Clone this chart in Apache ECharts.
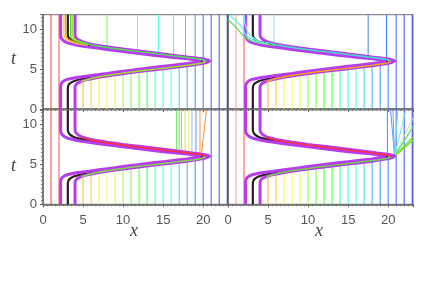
<!DOCTYPE html>
<html><head><meta charset="utf-8">
<script src="https://cdn.jsdelivr.net/npm/echarts@6/dist/echarts.min.js"></script>
<style>html,body{margin:0;padding:0;background:#fff}#c{width:431px;height:293px}</style>
</head><body><div id="c"></div>
<script>
// ---------- data ----------
const T_MAX = 11.8, X_MAX = 23.1;
const xTickLabels = [0, 5, 10, 15, 20];
const tTickLabels = [0, 5, 10];

// thick trajectories [x, t]
const outerPath = [[4,0],[4,2.7],[4.15,3.1],[4.6,3.4],[5.4,3.65],[6.5,3.88],[8,4.13],[10,4.42],[12,4.68],[14,4.92],[16,5.15],[18,5.4],[19.5,5.62],[20.4,5.82],[20.8,6.0],[20.4,6.18],[19.5,6.32],[18,6.5],[16,6.75],[14,7.0],[12,7.25],[10,7.5],[8,7.78],[6.5,8.02],[5.4,8.28],[4.6,8.55],[4.15,8.9],[4,9.3],[4,11.8]];
const innerPath = [[2.2,0],[2.2,2.85],[2.4,3.35],[3,3.7],[4,3.92],[5.5,4.12],[8,4.45],[10,4.72],[12,4.98],[14,5.22],[16,5.45],[18,5.68],[19.2,5.85],[19.6,6.0],[19.2,6.12],[18,6.28],[16,6.48],[14,6.7],[12,6.95],[10,7.2],[8,7.45],[5.5,7.8],[4,8.05],[3,8.3],[2.4,8.7],[2.2,9.2],[2.2,11.8]];
const midPath = [[3.1,0],[3.1,2.65],[3.3,3.15],[3.9,3.5],[5,3.78],[6.5,4.0],[8,4.27],[10,4.56],[12,4.82],[14,5.06],[16,5.3],[18,5.54],[19.3,5.75],[19.9,5.95],[19.5,6.1],[18,6.38],[16,6.6],[14,6.85],[12,7.1],[10,7.35],[8,7.6],[6.5,7.85],[5,8.1],[3.9,8.4],[3.3,8.8],[3.1,9.3],[3.1,11.8]];
const lowerCorePath = [[4.8,3.45],[5.6,3.7],[6.5,3.94],[8,4.2],[10,4.49],[12,4.75],[14,4.99],[16,5.22],[18,5.47],[19.5,5.68],[20.3,5.9]];
const upperCorePath = [[20.3,6.05],[19.5,6.25],[18,6.44],[16,6.68],[14,6.93],[12,7.18],[10,7.42],[8,7.69],[6.5,7.94],[5.6,8.15],[4.8,8.4]];

// thin vertical lines below the wave: x and the t where each meets it
const belowX   = [5,6,7,8,9,10,11,12,13,14,15,16,17,18,19,20];
const belowTop = [3.55,3.8,3.98,4.15,4.28,4.42,4.55,4.67,4.78,4.9,5.02,5.13,5.25,5.37,5.5,5.65];
// full-height thin lines
const fullX = [1, 2, 21, 22, 23];

// top-left: lines leaving the wave upward
const aboveX_TL    = [8, 11.8, 14.4, 16.3, 17.8, 19, 20];
const aboveFrom_TL = [7.78, 7.28, 6.95, 6.71, 6.53, 6.38, 6.25];
const bundleTL = [
  [[5.6,8.0],[4,8.25],[3,8.6],[2.65,9.1],[2.6,9.8],[2.6,11.8]],
  [[5.6,8.05],[4.2,8.3],[3.2,8.7],[2.85,9.2],[2.8,11.8]],
  [[5.6,8.1],[4.3,8.4],[3.6,8.8],[3.45,9.3],[3.45,11.8]],
  [[5.6,8.15],[4.4,8.5],[3.75,9.0],[3.65,9.6],[3.65,11.8]]
];
// top-right
const aboveX_TR    = [5.75, 17.5, 19.8];
const aboveFrom_TR = [7.95, 6.6, 6.3];
const cornerTR = [
  [[0,11.2],[1.0,10.2],[2.0,9.1],[3.0,8.5],[4.5,8.15],[6,7.95]],
  [[0.2,11.8],[1.0,11.0],[1.7,10.3],[2.3,9.2],[3.2,8.6],[4.5,8.2]],
  [[2.0,11.8],[2.1,10.8],[2.4,9.8],[3.0,9.0],[4.0,8.4],[5,8.15]]
];
// bottom-left
const aboveX_BL    = [16.7, 17.0, 17.3, 17.75, 18.2, 18.6, 19.1, 19.6];
const aboveFrom_BL = [6.66, 6.62, 6.59, 6.53, 6.48, 6.43, 6.37, 6.31];
const slantBL = [[19.8,6.3],[20.4,11.8]];
// bottom-right: fan from the tip
const fanStart = [20.8, 6.05];
const fanEnds = [[20.3,11.8],[20.6,11.8],[21.2,11.8],[22.2,11.8],[23.1,10.8],[23.1,9.7],[23.1,8.4],[23.1,8.0]];
const vertBR = [[19.9,6.3],[19.9,11.8]];

// ---------- styles ----------
const lineHue = [0,8,18,28,35,42,55,62,75,95,105,115,125,145,165,180,195,205,215,222,228,235,240];
const hc = (h, l) => `hsl(${h},100%,${l || 60}%)`;
const PURPLE = '#b63cf2', BLACK = '#2b1c1c';
const aboveCol_TL = [hc(110,65), hc(150,70), hc(175,62), hc(190,68), hc(205,68), hc(215,65), hc(225,62)];
const aboveCol_TR = [hc(200,78), hc(218,62), hc(225,62)];
const aboveCol_BL = ['#50e050','#70e040','#a0e040','#d8e040','#f0e070','#90c0ff','#6090ff','#ff9040'];
const fanCol = ['#6090ff','#70a0ff','#60e0e0','#70f0d0','#a0f0a0','#70e070','#60e040','#80e020'];
const bundleTLCol = ['#f0e020','#ff9a20','#40d040','#a0e020'];
const cornerTRCol = ['#60e060','#60f0f0','#80f0f0'];
const coreCol = [['#9be21e','#4fe04f'],['#f0a020','#40e0c0'],['#80d840','#ff3030'],['#70d040','#ff3040']];
const fullCol = [['#ff4040','#ff5050'],['#ff9a9a','#ff5050']];

// ---------- build ----------
const series = [];
function line(gi, data, color, width, z, smooth) {
  series.push({type:'line', xAxisIndex:gi, yAxisIndex:gi, data:data, showSymbol:false, symbol:'none',
    smooth: smooth || false, lineStyle:{color:color, width:width}, z:z, silent:true, animation:false, clip:true});
}
for (let gi = 0; gi < 4; gi++) {
  const right = gi % 2 === 1;
  fullX.forEach((x, i) => {
    const c = x <= 2 ? fullCol[right ? 1 : 0][i] : hc(lineHue[x-1], 62);
    line(gi, [[x,0],[x,T_MAX]], c, 1, 1);
  });
  belowX.forEach((x, i) => line(gi, [[x,0],[x,belowTop[i]]], hc(lineHue[x-1], 62), 1, 1));
  if (gi === 0) {
    aboveX_TL.forEach((x, i) => line(gi, [[x,aboveFrom_TL[i]],[x,T_MAX]], aboveCol_TL[i], 1, 1));
    bundleTL.forEach((p, i) => line(gi, p, bundleTLCol[i], 1.4, 5, 0.3));
  } else if (gi === 1) {
    aboveX_TR.forEach((x, i) => line(gi, [[x,aboveFrom_TR[i]],[x,T_MAX]], aboveCol_TR[i], 1, 1));
    cornerTR.forEach((p, i) => line(gi, p, cornerTRCol[i], 1.3, 5, 0.3));
  } else if (gi === 2) {
    aboveX_BL.forEach((x, i) => line(gi, [[x,aboveFrom_BL[i]],[x,T_MAX]], aboveCol_BL[i], 1, 1));
    line(gi, slantBL, '#ff9040', 1, 1);
  } else {
    fanEnds.forEach((e, i) => line(gi, [fanStart, e], fanCol[i], i >= 5 ? 1.4 : 1, 1));
    line(gi, vertBR, '#5080ff', 1, 1);
  }
  line(gi, midPath, BLACK, 2.2, 3, 0.25);
  line(gi, outerPath, PURPLE, 3, 4, 0.25);
  line(gi, innerPath, PURPLE, 3, 4, 0.25);
  line(gi, lowerCorePath, coreCol[gi][0], 1.5, 5, 0.25);
  line(gi, upperCorePath, coreCol[gi][1], 1.5, 5, 0.25);
}

const grids = [
  {left:43, top:14.7, width:185, height:94.3},
  {left:228, top:14.7, width:185, height:94.3},
  {left:43, top:110, width:185, height:94.3},
  {left:228, top:110, width:185, height:94.3}
].map(g => Object.assign(g, {show:true, borderColor:'#8a8a8a', borderWidth:1.2, containLabel:false}));

const labelFont = {fontFamily:'Liberation Sans', fontSize:13, color:'#555'};
const xAxes = [0,1,2,3].map(gi => ({
  type:'value', gridIndex:gi, min:0, max:X_MAX, interval:5,
  axisLine:{show:true, onZero:false, lineStyle:{color:'#666', width:1.5}},
  axisTick:{show:true, length:3, lineStyle:{color:'#666'}},
  minorTick:{show:true, splitNumber:10, length:2, lineStyle:{color:'#777'}},
  splitLine:{show:false},
  axisLabel:Object.assign({show: gi >= 2, margin:10,
    formatter: v => xTickLabels.indexOf(v) >= 0 ? String(v) : ''}, labelFont)
}));
const yAxes = [0,1,2,3].map(gi => ({
  type:'value', gridIndex:gi, min:0, max:T_MAX, interval:5,
  axisLine:{show:true, onZero:false, lineStyle:{color:'#666', width:1.5}},
  axisTick:{show: gi % 2 === 0, length:3, lineStyle:{color:'#666'}},
  minorTick:{show: gi % 2 === 0, splitNumber:10, length:2, lineStyle:{color:'#777'}},
  splitLine:{show:false},
  axisLabel:Object.assign({show: gi % 2 === 0, margin:6,
    formatter: v => tTickLabels.indexOf(v) >= 0 ? String(v) : ''}, labelFont)
}));

const nameStyle = {fontFamily:'Liberation Serif', fontStyle:'italic', fontSize:18, fill:'#444'};
const graphic = [
  {type:'text', left:11, top:50, style:Object.assign({text:'t'}, nameStyle)},
  {type:'text', left:11, top:157, style:Object.assign({text:'t'}, nameStyle)},
  {type:'text', left:130, top:222, style:Object.assign({text:'x'}, nameStyle)},
  {type:'text', left:315, top:222, style:Object.assign({text:'x'}, nameStyle)}
];

const chart = echarts.init(document.getElementById('c'), null, {renderer:'canvas'});
chart.setOption({animation:false, grid:grids, xAxis:xAxes, yAxis:yAxes, series:series, graphic:graphic});
</script></body></html>
